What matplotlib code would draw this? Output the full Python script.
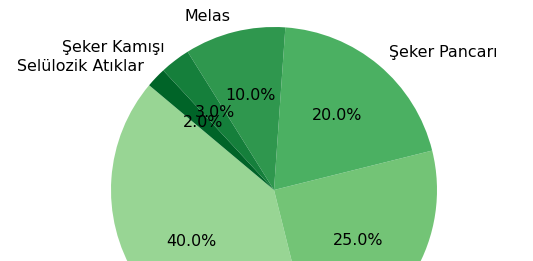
import matplotlib
matplotlib.use("Agg")
import matplotlib.pyplot as plt
import numpy as np

labels = ["", "", "Şeker Pancarı", "Melas", "Şeker Kamışı", "Selülozik Atıklar"]
values = [40, 25, 20, 10, 3, 2]
colors = plt.cm.Greens(np.linspace(0.4, 0.9, len(values)))

fig = plt.figure(figsize=(5.33, 2.61), dpi=100)
ax = fig.add_axes([0, 0, 1, 1])
ax.pie(values, labels=labels, colors=colors, autopct="%1.1f%%",
       startangle=140, textprops={"fontsize": 11.4})
r = 163.0
cx, cy = 274.0, 190.0
ax.set_xlim(-cx / r, (533 - cx) / r)
ax.set_ylim(-(261 - cy) / r, cy / r)
ax.set_aspect("auto")
ax.axis("off")
fig.savefig("out.png", dpi=100)
